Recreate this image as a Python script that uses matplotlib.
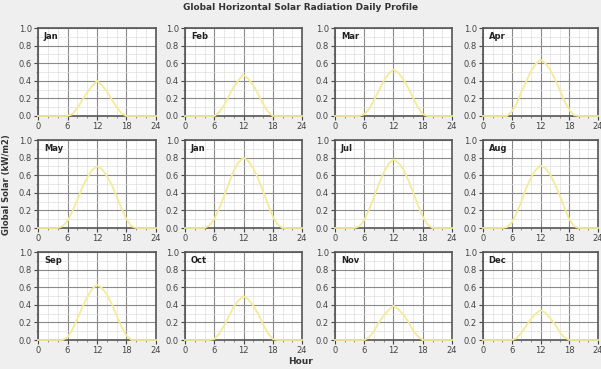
import matplotlib
matplotlib.use("Agg")
import matplotlib.pyplot as plt
from matplotlib.ticker import MultipleLocator

hours = list(range(25))

month_labels = ["Jan", "Feb", "Mar", "Apr",
                "May", "Jan", "Jul", "Aug",
                "Sep", "Oct", "Nov", "Dec"]

# hourly global horizontal radiation, kW/m2
jan = [0, 0, 0, 0, 0, 0, 0, 0.02, 0.09, 0.18, 0.27, 0.34, 0.40, 0.35, 0.28, 0.19, 0.10, 0.03, 0, 0, 0, 0, 0, 0, 0]
feb = [0, 0, 0, 0, 0, 0, 0, 0.04, 0.12, 0.23, 0.33, 0.41, 0.47, 0.42, 0.35, 0.25, 0.14, 0.05, 0, 0, 0, 0, 0, 0, 0]
mar = [0, 0, 0, 0, 0, 0, 0.02, 0.08, 0.18, 0.29, 0.40, 0.48, 0.53, 0.49, 0.42, 0.32, 0.21, 0.10, 0.02, 0, 0, 0, 0, 0, 0]
apr = [0, 0, 0, 0, 0, 0, 0.05, 0.14, 0.27, 0.39, 0.51, 0.59, 0.64, 0.60, 0.53, 0.42, 0.30, 0.17, 0.07, 0.01, 0, 0, 0, 0, 0]
may = [0, 0, 0, 0, 0, 0.02, 0.08, 0.19, 0.32, 0.46, 0.57, 0.66, 0.70, 0.67, 0.59, 0.49, 0.36, 0.22, 0.10, 0.02, 0, 0, 0, 0, 0]
jun = [0, 0, 0, 0, 0, 0.03, 0.10, 0.22, 0.36, 0.51, 0.65, 0.75, 0.80, 0.76, 0.68, 0.56, 0.42, 0.27, 0.13, 0.04, 0, 0, 0, 0, 0]
jul = [0, 0, 0, 0, 0, 0.02, 0.09, 0.21, 0.35, 0.50, 0.63, 0.73, 0.78, 0.74, 0.67, 0.55, 0.41, 0.26, 0.13, 0.04, 0, 0, 0, 0, 0]
aug = [0, 0, 0, 0, 0, 0.01, 0.06, 0.17, 0.30, 0.45, 0.57, 0.66, 0.71, 0.68, 0.61, 0.50, 0.37, 0.23, 0.10, 0.02, 0, 0, 0, 0, 0]
sep = [0, 0, 0, 0, 0, 0, 0.03, 0.12, 0.24, 0.37, 0.49, 0.58, 0.63, 0.59, 0.52, 0.41, 0.28, 0.15, 0.05, 0, 0, 0, 0, 0, 0]
oct = [0, 0, 0, 0, 0, 0, 0.01, 0.07, 0.16, 0.27, 0.38, 0.45, 0.50, 0.46, 0.39, 0.30, 0.18, 0.08, 0.01, 0, 0, 0, 0, 0, 0]
nov = [0, 0, 0, 0, 0, 0, 0, 0.03, 0.10, 0.20, 0.28, 0.34, 0.39, 0.35, 0.29, 0.21, 0.11, 0.04, 0, 0, 0, 0, 0, 0, 0]
dec = [0, 0, 0, 0, 0, 0, 0, 0.02, 0.08, 0.16, 0.24, 0.30, 0.34, 0.31, 0.25, 0.18, 0.09, 0.03, 0, 0, 0, 0, 0, 0, 0]

profiles = [jan, feb, mar, apr, may, jun, jul, aug, sep, oct, nov, dec]

bg = "#efefef"
line_color = "#f4eb96"

fig = plt.figure(figsize=(6.01, 3.69), dpi=100, facecolor=bg)

# panel boxes in pixels (left, right, top, bottom)
W, H = 601, 369
lefts = [38, 185, 335, 483]
rights = [156, 302, 452, 598]
tops = [28, 140, 252]
bottoms = [116, 228, 340]

for i, (lab, vals) in enumerate(zip(month_labels, profiles)):
    r, c = divmod(i, 4)
    ax = fig.add_axes([lefts[c] / W, 1 - bottoms[r] / H,
                       (rights[c] - lefts[c]) / W, (bottoms[r] - tops[r]) / H])
    ax.set_facecolor("white")
    ax.plot(hours, vals, color=line_color, lw=1.3, zorder=3, clip_on=False)
    ax.set_xlim(0, 24)
    ax.set_ylim(0, 1.0)
    ax.xaxis.set_major_locator(MultipleLocator(6))
    ax.xaxis.set_minor_locator(MultipleLocator(2))
    ax.yaxis.set_major_locator(MultipleLocator(0.2))
    ax.yaxis.set_minor_locator(MultipleLocator(0.1))
    ax.grid(which="major", color="#8a8a8a", lw=0.8)
    ax.grid(which="minor", color="#dedede", lw=0.5)
    ax.set_axisbelow(True)
    ax.yaxis.set_major_formatter(plt.FuncFormatter(lambda v, p: f"{v:.1f}"))
    ax.tick_params(which="major", labelsize=6, colors="#444444", length=3, width=0.8, pad=1.5)
    ax.tick_params(which="minor", length=1.5, width=0.5, colors="#666666")
    for s in ax.spines.values():
        s.set_color("#555555")
        s.set_linewidth(1.2)
    ax.text(0.05, 0.95, lab, transform=ax.transAxes, ha="left", va="top",
            fontsize=6, fontweight="bold", color="#222222")

fig.text(0.5, 1 - 8 / H, "Global Horizontal Solar Radiation Daily Profile",
         ha="center", va="center", fontsize=6.5, fontweight="bold", color="#333333")
fig.text(0.5, 1 - 362 / H, "Hour", ha="center", va="center",
         fontsize=6.5, fontweight="bold", color="#333333")
fig.text(7 / W, 1 - 185 / H, "Global Solar (kW/m2)", ha="center", va="center",
         rotation=90, fontsize=6, fontweight="bold", color="#333333")

fig.savefig("out.png", dpi=100, facecolor=bg)
